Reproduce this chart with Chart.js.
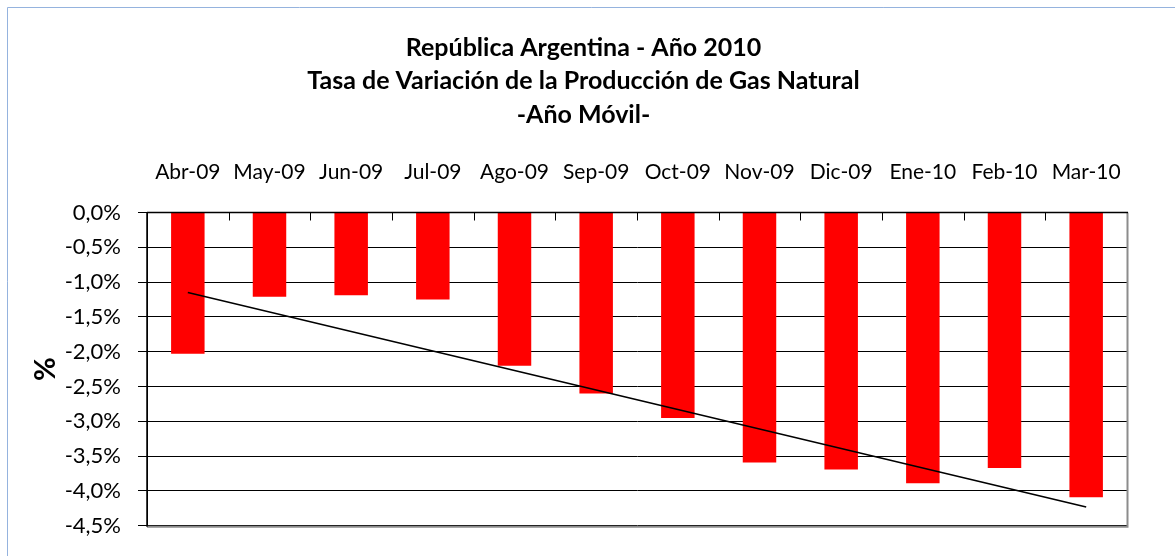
<!DOCTYPE html>
<html>
<head>
<meta charset="utf-8">
<script src="https://cdn.jsdelivr.net/npm/chart.js@4/dist/chart.umd.min.js"></script>
<style>
  html, body { margin: 0; padding: 0; background: #ffffff; }
  #wrap { position: relative; width: 1175px; height: 556px; }
</style>
</head>
<body>
<div id="wrap"><canvas id="c" width="1175" height="556"></canvas></div>
<script>
const titleLines = ['República Argentina - Año 2010', 'Tasa de Variación de la Producción de Gas Natural', '-Año Móvil-'];
const categories = ['Abr-09', 'May-09', 'Jun-09', 'Jul-09', 'Ago-09', 'Sep-09', 'Oct-09', 'Nov-09', 'Dic-09', 'Ene-10', 'Feb-10', 'Mar-10'];
const variation = [-2.03, -1.21, -1.19, -1.25, -2.20, -2.60, -2.95, -3.59, -3.69, -3.89, -3.67, -4.09];
const trend = [-1.15, null, null, null, null, null, null, null, null, null, null, -4.23];
const yMin = -4.5, yMax = 0, yStep = 0.5;
const yTitle = '%';

const FONT = 'Lato, "Open Sans", sans-serif';

const framePlugin = {
  id: 'frame',
  afterLayout(chart) {
    const t = chart.titleBlock;
    if (t) { t.left = 0; t.right = 1167; t.width = 1167; }
  },
  beforeDraw(chart) {
    const ctx = chart.ctx;
    ctx.save();
    ctx.fillStyle = '#ffffff';
    ctx.fillRect(0, 0, chart.width, chart.height);
    ctx.strokeStyle = '#95B3DE';
    ctx.lineWidth = 1;
    ctx.beginPath();
    ctx.moveTo(7.5, chart.height);
    ctx.lineTo(7.5, 7.5);
    ctx.lineTo(chart.width, 7.5);
    ctx.stroke();
    ctx.restore();
  },
  afterDatasetsDraw(chart) {
    const ctx = chart.ctx;
    const a = chart.chartArea;
    ctx.save();
    ctx.strokeStyle = '#000000';
    ctx.lineWidth = 1;
    const n = categories.length;
    const w = (a.right - a.left) / n;
    ctx.beginPath();
    for (let i = 1; i <= n; i++) {
      const x = Math.round(a.left + w * i) + 0.5;
      ctx.moveTo(x, a.top);
      ctx.lineTo(x, a.top + 8);
    }
    ctx.stroke();
    ctx.strokeStyle = '#8C8C8C';
    ctx.lineWidth = 2;
    ctx.beginPath();
    ctx.moveTo(a.right + 0.5, a.top);
    ctx.lineTo(a.right + 0.5, a.bottom + 1);
    ctx.lineTo(a.left, a.bottom + 1);
    ctx.stroke();
    ctx.strokeStyle = '#000000';
    ctx.lineWidth = 1.5;
    ctx.beginPath();
    ctx.moveTo(a.left, a.top);
    ctx.lineTo(a.right + 1, a.top);
    ctx.moveTo(a.left, a.top);
    ctx.lineTo(a.left, a.bottom + 1);
    ctx.stroke();
    ctx.restore();
  }
};

new Chart(document.getElementById('c'), {
  data: {
    labels: categories,
    datasets: [
      {
        type: 'line',
        label: 'Tendencia',
        data: trend,
        spanGaps: true,
        borderColor: '#000000',
        borderWidth: 1.6,
        pointRadius: 0,
        fill: false,
        order: 0
      },
      {
        type: 'bar',
        label: 'Tasa de variación',
        data: variation,
        backgroundColor: '#FF0000',
        borderWidth: 0,
        categoryPercentage: 1.0,
        barPercentage: 0.41,
        order: 1
      }
    ]
  },
  options: {
    responsive: false,
    animation: false,
    devicePixelRatio: 1,
    layout: { padding: { left: 0, right: 48, top: 0, bottom: 28 } },
    plugins: {
      legend: { display: false },
      tooltip: { enabled: false },
      title: {
        display: true,
        text: titleLines,
        color: '#000000',
        font: { family: FONT, size: 25, weight: 'bold', lineHeight: 1.34 },
        padding: { top: 31, bottom: 0 }
      }
    },
    scales: {
      x: {
        position: 'top',
        offset: true,
        grid: { display: false, drawTicks: false },
        border: { display: true, color: '#000000', width: 1 },
        ticks: {
          color: '#000000',
          font: { family: FONT, size: 21 },
          padding: 28,
          maxRotation: 0,
          autoSkip: false
        },
        afterFit(s) { s.height = 81; }
      },
      y: {
        min: yMin,
        max: yMax,
        grid: { color: '#000000', lineWidth: 1, tickLength: 9, drawTicks: true },
        border: { display: true, color: '#000000', width: 1 },
        ticks: {
          stepSize: yStep,
          color: '#000000',
          font: { family: FONT, size: 22 },
          padding: 17,
          callback: (v) => (Math.abs(v) < 1e-9 ? 0 : v).toFixed(1).replace('.', ',') + '%'
        },
        title: {
          display: true,
          text: yTitle,
          color: '#000000',
          font: { family: FONT, size: 29, weight: 'bold' },
          padding: { top: 28, bottom: 0 }
        },
        afterFit(s) { s.width = 147; }
      }
    }
  },
  plugins: [framePlugin]
});
</script>
</body>
</html>
